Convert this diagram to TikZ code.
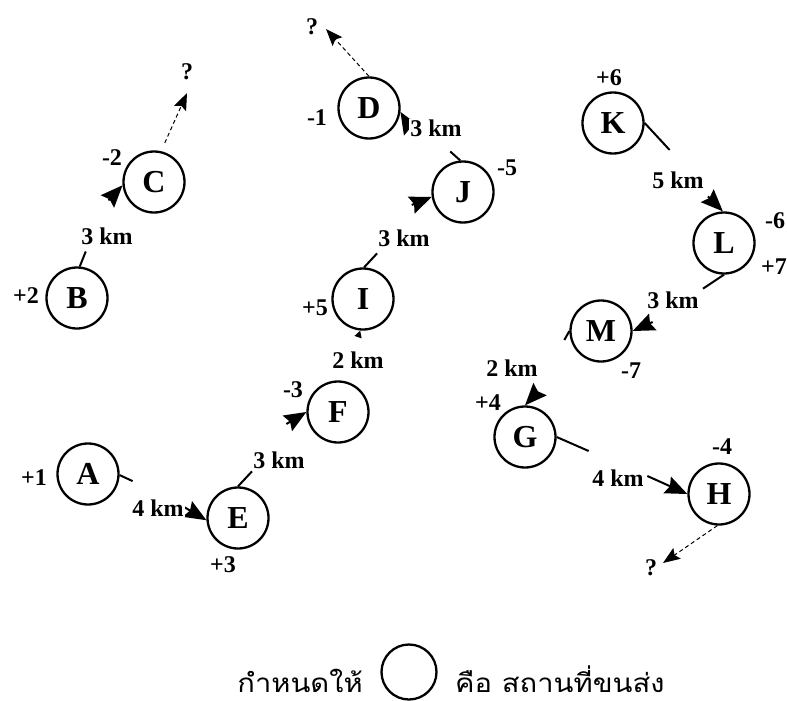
\documentclass[tikz,border=0pt]{standalone}
\usepackage{fontspec}
\setmainfont{Liberation Serif}
\newfontfamily\thaifont[Script=Thai,FakeStretch=1.12]{Loma}
\usetikzlibrary{arrows.meta,calc}
\begin{document}
\begin{tikzpicture}[x=1pt,y=-1pt,
  place/.style={circle,draw,line width=2.3pt,minimum size=61pt,inner sep=0pt,font=\fontsize{32}{32}\selectfont\bfseries},
  num/.style={font=\fontsize{24}{24}\selectfont\bfseries,inner sep=0pt},
  dist/.style={font=\fontsize{24}{24}\selectfont\bfseries,fill=white,inner sep=1pt},
  conn/.style={line width=2pt},
  arr/.style={line width=2pt,-{Stealth[length=22pt,width=18pt,inset=3pt]}},
  dashedarr/.style={line width=1pt,dash pattern=on 4pt off 3pt,-{Stealth[length=17pt,width=13pt,inset=3pt]}},
  thai/.style={font=\thaifont\fontsize{26}{26}\selectfont,inner sep=0pt}
]
\useasboundingbox (0,0) rectangle (787,701);

% places
\node[place] (A) at (88,474) {A};
\node[place] (E) at (238,518) {E};
\node[place] (F) at (338,412) {F};
\node[place] (I) at (363,299) {I};
\node[place] (J) at (463,192) {J};
\node[place] (D) at (369,108) {D};
\node[place] (B) at (77,298) {B};
\node[place] (C) at (154,182) {C};
\node[place] (K) at (613,123) {K};
\node[place] (L) at (724,243) {L};
\node[place] (M) at (601,331) {M};
\node[place] (G) at (525,437) {G};
\node[place] (H) at (719,494) {H};

% A -> E
\draw[conn] (A.-2) -- ++(13,6);
\draw[arr] ($(E.184)+(-22,-13)$) -- (E.184);
% E -> F
\draw[conn] (E.90) -- ++(14,-15);
\draw[arr] ($(F.180)+(-20,12)$) -- (F.180);
% F -> I
\draw[conn,-{Triangle[length=7pt,width=7pt]}] ($(I.265)+(-2,6)$) -- (I.265);
% I -> J
\draw[conn] (I.88) -- ++(13,-14);
\draw[arr] ($(J.189)+(-20,8)$) -- (J.189);
% J -> D
\draw[conn] (J.95) -- ++(-10,-9);
\draw[arr] ($(D.-7)+(9,15)$) -- (D.-7);
% D -> ?
\coordinate (qD) at (326,29);
\draw[dashedarr] (D.90) -- (qD);
% B -> C
\draw[conn] (B.85) -- ++(6,-15);
\draw[arr] ($(C.186)+(-14,15)$) -- (C.186);
% C -> ?
\coordinate (qC) at (187,93);
\draw[dashedarr,shorten <=9pt] (C.77) -- (qC);
% K -> L
\draw[conn] (K.0) -- ++(25,27);
\draw[arr] ($(L.92)+(-15,-15)$) -- (L.92);
% L -> M
\draw[conn] (L.-90) -- ++(-21,14);
\draw[arr] ($(M.0)+(20,-9)$) -- (M.0);
% M -> G
\draw[conn] (M.180) -- ++(-5,9);
\draw[arr] ($(G.90)+(13,-14)$) -- (G.90);
% G -> H
\draw[conn] (G.0) -- ++(32,14);
\draw[arr] ($(H.180)+(-40,-18)$) -- (H.180);
% H -> ?
\coordinate (qH) at (663,563);
\draw[dashedarr] (H.-93) -- (qH);

% distance labels
\node[dist] (dAE) at (158,508) {4 km};
\node[dist] (dEF) at (279,460) {3 km};
\node[dist] (dFI) at (358,360) {2 km};
\node[dist] (dIJ) at (404,238) {3 km};
\node[dist] (dJD) at (436,128) {3 km};
\node[dist] (dBC) at (107,236) {3 km};
\node[dist] (dKL) at (678,180) {5 km};
\node[dist] (dLM) at (673,300) {3 km};
\node[dist] (dMG) at (512,368) {2 km};
\node[dist] (dGH) at (618,478) {4 km};

% numbers
\node[num] (nA) at (34,478) {+1};
\node[num] (nE) at (223,565) {+3};
\node[num] (nF) at (293,390) {-3};
\node[num] (nI) at (315,308) {+5};
\node[num] (nJ) at (507,168) {-5};
\node[num] (nD) at (317,118) {-1};
\node[num] (nB) at (26,296) {+2};
\node[num] (nC) at (112,158) {-2};
\node[num] (nK) at (609,78) {+6};
\node[num] (nL1) at (775,221) {-6};
\node[num] (nL2) at (774,267) {+7};
\node[num] (nM) at (631,371) {-7};
\node[num] (nG) at (488,403) {+4};
\node[num] (nH) at (722,447) {-4};

% question marks
\node[num] (tD) at (312,27) {?};
\node[num] (tC) at (187,72) {?};
\node[num] (tH) at (651,568) {?};

% legend
\node[thai,anchor=base east] (lg1) at (363,692) {กำหนดให้};
\node[circle,draw,line width=2.3pt,minimum size=55pt,inner sep=0pt] (lgc) at (409,672) {};
\node[thai,anchor=base west] (lg2) at (455,692) {คือ สถานที่ขนส่ง};
\end{tikzpicture}
\end{document}
